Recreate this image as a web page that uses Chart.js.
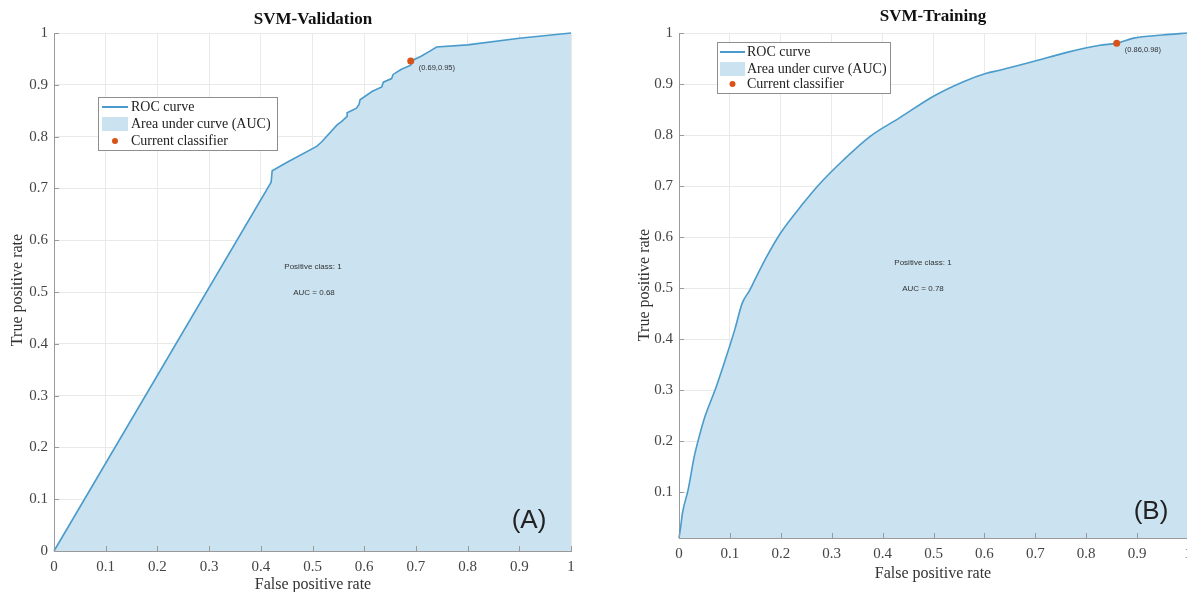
<!DOCTYPE html>
<html><head><meta charset="utf-8">
<script src="https://cdn.jsdelivr.net/npm/chart.js@4.4.1/dist/chart.umd.min.js"></script>
<style>
html,body{margin:0;padding:0;background:#fff;overflow:hidden;width:1187px;height:592px;position:relative;}
#ca{position:absolute;left:0;top:0;}
#cb{position:absolute;left:600px;top:0;}
</style></head><body>
<canvas id="ca" width="600" height="592"></canvas>
<canvas id="cb" width="620" height="592"></canvas>
<script>
// ---- Data ----
const titleA = "SVM-Validation";
const titleB = "SVM-Training";
const fprA = [0, 0.420, 0.422, 0.450, 0.508, 0.518, 0.547, 0.556, 0.567, 0.567, 0.585, 0.590, 0.592, 0.615, 0.634, 0.637, 0.653, 0.656, 0.672, 0.690, 0.695, 0.710, 0.727, 0.740, 0.800, 0.900, 1];
const tprA = [0, 0.712, 0.734, 0.750, 0.781, 0.790, 0.822, 0.829, 0.839, 0.846, 0.855, 0.862, 0.871, 0.887, 0.896, 0.905, 0.912, 0.920, 0.930, 0.938, 0.948, 0.955, 0.965, 0.973, 0.977, 0.990, 1];
const fprB = [0, 0.003, 0.007, 0.018, 0.030, 0.040, 0.051, 0.073, 0.095, 0.110, 0.124, 0.139, 0.149, 0.172, 0.199, 0.244, 0.277, 0.323, 0.375, 0.434, 0.500, 0.560, 0.604, 0.630, 0.696, 0.762, 0.827, 0.860, 0.893, 0.950, 1];
const tprB = [0.01, 0.030, 0.060, 0.105, 0.170, 0.210, 0.248, 0.306, 0.372, 0.420, 0.470, 0.496, 0.516, 0.561, 0.607, 0.666, 0.705, 0.751, 0.797, 0.834, 0.876, 0.905, 0.921, 0.927, 0.944, 0.962, 0.976, 0.980, 0.990, 0.996, 1];
const opA = [0.69, 0.946];
const opB = [0.86, 0.98];
const opLabelA = "(0.69,0.95)";
const opLabelB = "(0.86,0.98)";
const aucA = "AUC = 0.68";
const aucB = "AUC = 0.78";
const posClass = "Positive class: 1";
const legendLabels = ["ROC curve", "Area under curve (AUC)", "Current classifier"];
const xTitle = "False positive rate";
const yTitle = "True positive rate";
const tickValues = [0, 0.1, 0.2, 0.3, 0.4, 0.5, 0.6, 0.7, 0.8, 0.9, 1];
const yTicksB = [0.1, 0.2, 0.3, 0.4, 0.5, 0.6, 0.7, 0.8, 0.9, 1];

const LINE = '#4a9bcb';
const FILL = '#cbe2f0';
const DOT = '#d95319';
const SERIF = "'Liberation Serif', 'Times New Roman', serif";
const SANS = "'Liberation Sans', Arial, sans-serif";

function pts(xs, ys){ return xs.map((x,i)=>({x:x, y:ys[i]})); }
function fmt(v){ return String(Math.round(v*10)/10); }

function makeChart(id, c){
  const deco = {
    id:'deco',
    afterDraw(chart){
      const ctx = chart.ctx;
      const xs = chart.scales.x, ys = chart.scales.y;
      const a = chart.chartArea;
      ctx.save();
      // inward tick marks (MATLAB style)
      ctx.strokeStyle = '#9a9a9a'; ctx.lineWidth = 1;
      ctx.beginPath();
      xs.ticks.forEach(t => { const px = Math.round(xs.getPixelForValue(t.value)) + 0.5; ctx.moveTo(px, a.bottom); ctx.lineTo(px, a.bottom - 5); });
      ys.ticks.forEach(t => { const py = Math.round(ys.getPixelForValue(t.value)) + 0.5; ctx.moveTo(a.left, py); ctx.lineTo(a.left + 5, py); });
      ctx.stroke();
      // title
      ctx.fillStyle = '#111';
      ctx.textAlign = 'center'; ctx.textBaseline = 'middle';
      ctx.font = "bold 17px " + SERIF;
      ctx.fillText(c.title, c.titlePos[0], c.titlePos[1]);
      // axis titles
      ctx.fillStyle = '#333';
      ctx.font = "16px " + SERIF;
      ctx.fillText(xTitle, c.xTitlePos[0], c.xTitlePos[1]);
      ctx.save();
      ctx.translate(c.yTitlePos[0], c.yTitlePos[1]);
      ctx.rotate(-Math.PI/2);
      ctx.fillText(yTitle, 0, 0);
      ctx.restore();
      // in-plot texts
      ctx.fillStyle = '#333';
      ctx.font = "8px " + SANS;
      ctx.fillText(posClass, c.posPos[0], c.posPos[1]);
      ctx.fillText(c.auc, c.aucPos[0], c.aucPos[1]);
      ctx.textAlign = 'left';
      ctx.font = "7.5px " + SANS;
      ctx.fillText(c.opLabel, xs.getPixelForValue(c.op[0]) + 8, ys.getPixelForValue(c.op[1]) + 7);
      // panel letter
      ctx.textAlign = 'center';
      ctx.fillStyle = '#222';
      ctx.font = "26px " + SANS;
      ctx.fillText(c.letter, c.letterPos[0], c.letterPos[1]);
      // legend
      const L = c.legend;
      ctx.fillStyle = '#fff';
      ctx.fillRect(L.x, L.y, L.w, L.h);
      ctx.strokeStyle = '#8e8e8e'; ctx.lineWidth = 1;
      ctx.strokeRect(L.x + 0.5, L.y + 0.5, L.w, L.h);
      ctx.strokeStyle = LINE; ctx.lineWidth = 2;
      ctx.beginPath(); ctx.moveTo(L.sx0, L.rows[0]); ctx.lineTo(L.sx1, L.rows[0]); ctx.stroke();
      ctx.fillStyle = FILL;
      ctx.fillRect(L.sx0, L.rows[1]-7, L.sx1-L.sx0, 14);
      ctx.fillStyle = DOT;
      ctx.beginPath(); ctx.arc((L.sx0+L.sx1)/2, L.rows[2], 3, 0, Math.PI*2); ctx.fill();
      ctx.fillStyle = '#222';
      ctx.textAlign = 'left';
      ctx.font = "14px " + SERIF;
      legendLabels.forEach((t,i)=>ctx.fillText(t, L.tx, L.rows[i]));
      ctx.restore();
    }
  };
  return new Chart(document.getElementById(id), {
    type:'line',
    data:{ datasets:[
      { data: pts(c.fpr, c.tpr), borderColor: LINE, backgroundColor: FILL, borderWidth: 1.6,
        fill: 'start', pointRadius: 0, tension: 0, cubicInterpolationMode: c.smooth ? 'monotone' : 'default',
        clip: false, order: 2 },
      { data: [{x:c.op[0], y:c.op[1]}], showLine:false, pointRadius: 3.5, pointBackgroundColor: DOT,
        pointBorderWidth: 0, clip:false, order: 1 }
    ]},
    options:{
      responsive:false, animation:false,
      layout:{ padding:{ left:0, top:c.area.top, right:c.W - c.area.right, bottom:0 } },
      plugins:{ legend:{display:false}, tooltip:{enabled:false}, title:{display:false} },
      scales:{
        x:{ type:'linear', min:0, max:1,
            afterBuildTicks: s => { s.ticks = tickValues.map(v=>({value:v})); },
            afterFit: s => { s.height = c.H - c.area.bottom; },
            grid:{ color:'#e9e9e9', drawTicks:false },
            border:{ display:true, color:'#9a9a9a', width:1 },
            ticks:{ padding: c.xPad, color:'#444', font:{ family: SERIF, size: 15 }, maxRotation:0, autoSkip:false, callback: fmt } },
        y:{ type:'linear', min:c.yMin, max:1,
            afterBuildTicks: s => { s.ticks = c.yTicks.map(v=>({value:v})); },
            afterFit: s => { s.width = c.area.left; },
            grid:{ color:'#e9e9e9', drawTicks:false },
            border:{ display:true, color:'#9a9a9a', width:1 },
            ticks:{ padding: 6, color:'#444', font:{ family: SERIF, size: 15 }, callback: fmt } }
      }
    },
    plugins:[deco]
  });
}

makeChart('ca', {
  W:600, H:592, area:{left:54, right:571, top:33, bottom:551}, smooth:false,
  fpr:fprA, tpr:tprA, op:opA, opLabel:opLabelA, yMin:0, yTicks:tickValues, xPad:7,
  title:titleA, titlePos:[313,20], xTitlePos:[313,585], yTitlePos:[18,290],
  auc:aucA, posPos:[313,267], aucPos:[314,293], letter:"(A)", letterPos:[529,521],
  legend:{ x:98, y:97, w:179, h:53, rows:[107,124,141], sx0:102, sx1:128, tx:131 }
});
makeChart('cb', {
  W:620, H:592, area:{left:79, right:588, top:33, bottom:538}, smooth:true,
  fpr:fprB, tpr:tprB, op:opB, opLabel:opLabelB, yMin:0.01, yTicks:yTicksB, xPad:7,
  title:titleB, titlePos:[333,17], xTitlePos:[333,574], yTitlePos:[45,285],
  auc:aucB, posPos:[323,263], aucPos:[323,289], letter:"(B)", letterPos:[551,512],
  legend:{ x:117, y:42, w:173, h:51, rows:[52,69,84], sx0:120, sx1:145, tx:147 }
});
</script>
</body></html>
